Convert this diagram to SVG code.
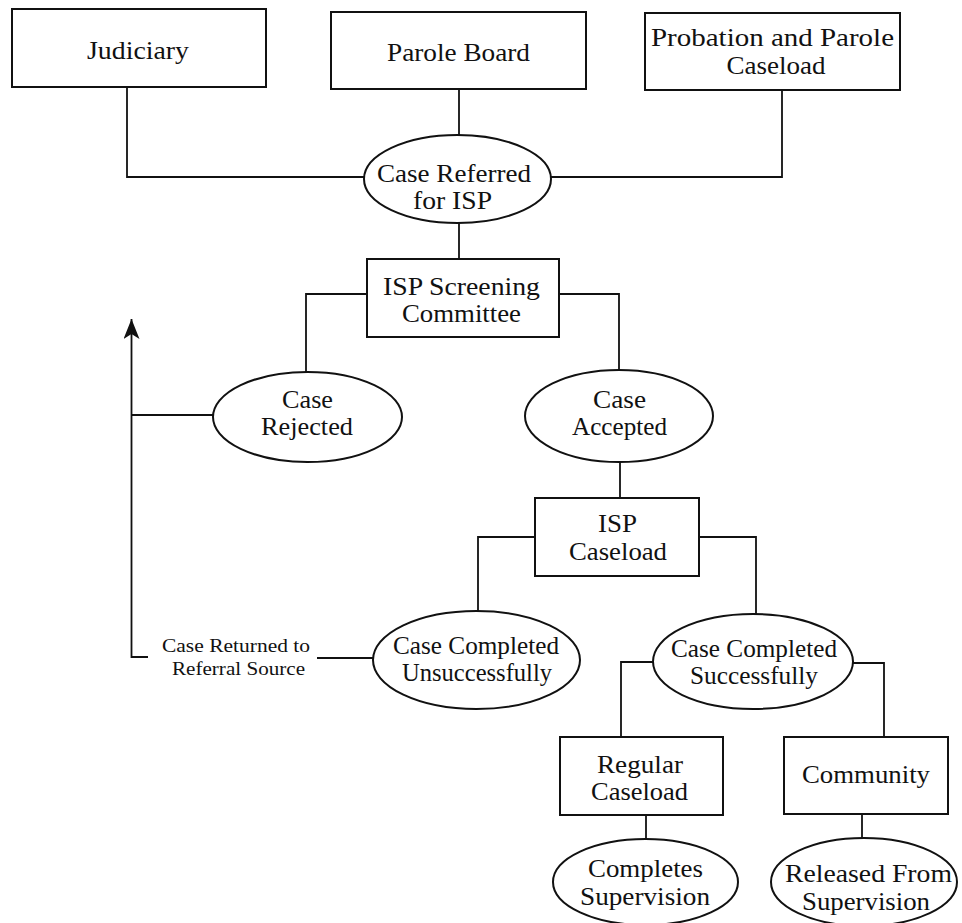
<svg xmlns="http://www.w3.org/2000/svg" width="962" height="923" viewBox="0 0 962 923">
<style>
.box{fill:#fff;stroke:#111;stroke-width:2}
.ell{fill:#fff;stroke:#111;stroke-width:2}
.con{fill:none;stroke:#111;stroke-width:1.8}
text{font-family:"Liberation Serif","Times New Roman",serif;font-size:26px;fill:#111;text-anchor:middle}
.small{font-size:19px}
</style>
<defs>
<marker id="arrow" viewBox="0 0 20 16" refX="20" refY="8" markerWidth="20" markerHeight="16" markerUnits="userSpaceOnUse" orient="auto">
<path d="M0,0 L20,8 L0,16 L5,8 Z" fill="#111"/>
</marker>
</defs>
<rect width="962" height="923" fill="#fff"/>
<g id="connectors">
<path class="con" d="M127 87 V177 H364"/>
<path class="con" d="M459 89 V135"/>
<path class="con" d="M782 90 V177 H551"/>
<path class="con" d="M459 223 V259"/>
<path class="con" d="M367 294 H306 V372"/>
<path class="con" d="M559 294 H619 V370"/>
<path class="con" d="M213 415 H131.5"/>
<path class="con" d="M148 657 H131.5 V319" marker-end="url(#arrow)"/>
<path class="con" d="M317 658 H373"/>
<path class="con" d="M620 462 V498"/>
<path class="con" d="M535 537 H478 V611"/>
<path class="con" d="M699 537 H756 V614"/>
<path class="con" d="M653 662 H621 V737"/>
<path class="con" d="M853 663 H884 V737"/>
<path class="con" d="M646 815 V839"/>
<path class="con" d="M862 814 V838"/>
</g>
<g id="judiciary">
<rect class="box" x="12" y="9" width="254" height="78"/>
<text x="138" y="59" textLength="102" lengthAdjust="spacingAndGlyphs">Judiciary</text>
</g>
<g id="parole-board">
<rect class="box" x="331" y="12" width="255" height="77"/>
<text x="458.5" y="61" textLength="143" lengthAdjust="spacingAndGlyphs">Parole Board</text>
</g>
<g id="probation-parole-caseload">
<rect class="box" x="645" y="13" width="255" height="77"/>
<text x="772.5" y="46" textLength="243" lengthAdjust="spacingAndGlyphs">Probation and Parole</text>
<text x="776" y="74" textLength="99" lengthAdjust="spacingAndGlyphs">Caseload</text>
</g>
<g id="case-referred">
<ellipse class="ell" cx="457.5" cy="179" rx="93.5" ry="44"/>
<text x="454" y="182" textLength="154" lengthAdjust="spacingAndGlyphs">Case Referred</text>
<text x="452.5" y="209" textLength="79" lengthAdjust="spacingAndGlyphs">for ISP</text>
</g>
<g id="isp-screening-committee">
<rect class="box" x="367" y="259" width="192" height="78"/>
<text x="461.5" y="295" textLength="157" lengthAdjust="spacingAndGlyphs">ISP Screening</text>
<text x="461.5" y="322" textLength="119" lengthAdjust="spacingAndGlyphs">Committee</text>
</g>
<g id="case-rejected">
<ellipse class="ell" cx="307.5" cy="417" rx="94.5" ry="45"/>
<text x="307.5" y="408" textLength="51" lengthAdjust="spacingAndGlyphs">Case</text>
<text x="307" y="435" textLength="92" lengthAdjust="spacingAndGlyphs">Rejected</text>
</g>
<g id="case-accepted">
<ellipse class="ell" cx="619" cy="416" rx="94" ry="46"/>
<text x="619.5" y="408" textLength="53" lengthAdjust="spacingAndGlyphs">Case</text>
<text x="619.5" y="435" textLength="95" lengthAdjust="spacingAndGlyphs">Accepted</text>
</g>
<g id="isp-caseload">
<rect class="box" x="535" y="498" width="164" height="78"/>
<text x="617.5" y="532" textLength="39" lengthAdjust="spacingAndGlyphs">ISP</text>
<text x="618" y="560" textLength="98" lengthAdjust="spacingAndGlyphs">Caseload</text>
</g>
<g id="case-returned-label">
<text class="small" x="236" y="652" textLength="148" lengthAdjust="spacingAndGlyphs">Case Returned to</text>
<text class="small" x="238.5" y="675" textLength="133" lengthAdjust="spacingAndGlyphs">Referral Source</text>
</g>
<g id="case-completed-unsuccessfully">
<ellipse class="ell" cx="476.5" cy="660" rx="103.5" ry="49"/>
<text x="476" y="654" textLength="166" lengthAdjust="spacingAndGlyphs">Case Completed</text>
<text x="477" y="681" textLength="150" lengthAdjust="spacingAndGlyphs">Unsuccessfully</text>
</g>
<g id="case-completed-successfully">
<ellipse class="ell" cx="753" cy="661.5" rx="100" ry="47.5"/>
<text x="754" y="657" textLength="166" lengthAdjust="spacingAndGlyphs">Case Completed</text>
<text x="754" y="684" textLength="128" lengthAdjust="spacingAndGlyphs">Successfully</text>
</g>
<g id="regular-caseload">
<rect class="box" x="560" y="737" width="163" height="78"/>
<text x="640" y="773" textLength="86" lengthAdjust="spacingAndGlyphs">Regular</text>
<text x="639.5" y="800" textLength="97" lengthAdjust="spacingAndGlyphs">Caseload</text>
</g>
<g id="community">
<rect class="box" x="784" y="737" width="164" height="77"/>
<text x="866" y="783" textLength="128" lengthAdjust="spacingAndGlyphs">Community</text>
</g>
<g id="completes-supervision">
<ellipse class="ell" cx="645.5" cy="882" rx="92.5" ry="43"/>
<text x="645.5" y="877" textLength="115" lengthAdjust="spacingAndGlyphs">Completes</text>
<text x="645" y="905" textLength="130" lengthAdjust="spacingAndGlyphs">Supervision</text>
</g>
<g id="released-from-supervision">
<ellipse class="ell" cx="864" cy="882" rx="93" ry="44"/>
<text x="868.5" y="882" textLength="167" lengthAdjust="spacingAndGlyphs">Released From</text>
<text x="866" y="910" textLength="128" lengthAdjust="spacingAndGlyphs">Supervision</text>
</g>
</svg>
